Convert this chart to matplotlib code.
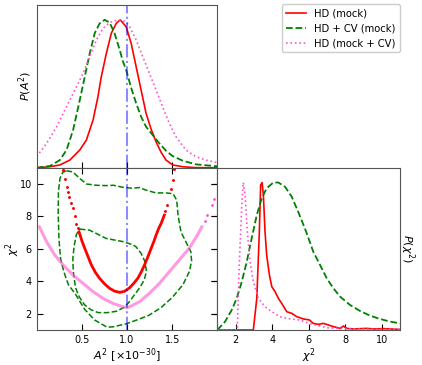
import matplotlib
matplotlib.use('Agg')
import matplotlib.pyplot as plt
from matplotlib.lines import Line2D

# --- marginal of A^2 (top-left), normalised to peak 1
a2_red = [0.0, 0.146, 0.257, 0.367, 0.477, 0.55, 0.624, 0.678, 0.715, 0.771, 0.826, 0.881, 0.925,
          0.99, 1.046, 1.101, 1.156, 1.211, 1.267, 1.322, 1.377, 1.432, 1.505, 1.615, 1.75, 2.0]
p_a2_red = [0.0, 0.007, 0.019, 0.052, 0.12, 0.187, 0.323, 0.48, 0.615, 0.773, 0.909, 0.976, 1.0,
            0.953, 0.841, 0.683, 0.525, 0.368, 0.26, 0.175, 0.105, 0.052, 0.019, 0.007, 0.001, 0.0]

a2_green = [0.0, 0.146, 0.257, 0.33, 0.403, 0.477, 0.532, 0.587, 0.642, 0.697, 0.752, 0.807, 0.862,
            0.917, 0.954, 0.991, 1.046, 1.101, 1.156, 1.211, 1.284, 1.358, 1.432, 1.505, 1.615, 1.762, 2.0]
p_a2_green = [0.0, 0.012, 0.052, 0.12, 0.255, 0.458, 0.615, 0.773, 0.909, 0.976, 1.0, 0.981, 0.909,
              0.80, 0.72, 0.66, 0.54, 0.436, 0.345, 0.277, 0.221, 0.165, 0.115, 0.079, 0.048, 0.023, 0.01]

a2_pink = [0.0, 0.11, 0.22, 0.33, 0.44, 0.514, 0.587, 0.661, 0.734, 0.807, 0.881, 0.93, 0.99, 1.028,
           1.101, 1.174, 1.248, 1.322, 1.394, 1.468, 1.542, 1.652, 1.762, 1.872, 2.0]
p_a2_pink = [0.075, 0.165, 0.277, 0.413, 0.548, 0.638, 0.751, 0.864, 0.942, 0.981, 0.996, 1.0, 0.985, 0.955,
             0.864, 0.751, 0.638, 0.525, 0.413, 0.30, 0.21, 0.12, 0.075, 0.052, 0.034]

# --- joint A^2 vs chi^2 (bottom-left)
outer_x = [0.33, 0.40, 0.477, 0.55, 0.66, 0.77, 0.85, 0.95, 1.05, 1.14, 1.21, 1.32, 1.43, 1.51, 1.55,
           1.565, 1.597, 1.652, 1.707, 1.715, 1.69, 1.62, 1.50, 1.37, 1.24, 1.10, 0.99, 0.85, 0.78,
           0.64, 0.53, 0.43, 0.35, 0.30, 0.264, 0.246, 0.238, 0.24, 0.257, 0.29, 0.33]
outer_y = [10.82, 10.74, 10.34, 10.0, 9.92, 9.9, 9.92, 9.8, 9.74, 9.78, 9.62, 9.45, 9.45, 9.4, 9.0,
           8.08, 7.05, 6.43, 5.82, 5.25, 4.6, 3.8, 3.0, 2.35, 1.9, 1.6, 1.38, 1.2, 1.17,
           1.62, 2.28, 3.2, 3.8, 4.6, 5.41, 6.64, 8.08, 9.51, 10.34, 10.72, 10.82]

inner_x = [0.477, 0.587, 0.771, 0.954, 1.064, 1.10, 1.156, 1.20, 1.215, 1.19, 1.14, 1.08, 1.02, 0.97,
           0.88, 0.78, 0.68, 0.60, 0.53, 0.47, 0.43, 0.405, 0.40, 0.415, 0.44, 0.477]
inner_y = [7.22, 7.15, 6.64, 6.45, 6.25, 6.13, 5.72, 5.2, 4.6, 4.08, 3.6, 3.15, 2.7, 2.4,
           2.15, 2.07, 2.07, 2.25, 2.55, 3.05, 3.6, 4.6, 5.4, 6.2, 6.9, 7.22]

red_band_x = [0.469, 0.50, 0.532, 0.57, 0.606, 0.65, 0.697, 0.75, 0.807, 0.86, 0.92, 0.97, 1.028,
              1.075, 1.119, 1.16, 1.193, 1.23, 1.267, 1.30, 1.322, 1.35, 1.377, 1.413]
red_band_y = [7.05, 6.5, 6.03, 5.5, 5.0, 4.55, 4.18, 3.85, 3.57, 3.4, 3.32, 3.38, 3.6,
              3.88, 4.18, 4.6, 5.0, 5.5, 6.03, 6.5, 6.85, 7.25, 7.56, 8.08]
red_dots_x = [0.29, 0.293, 0.31, 0.33, 0.345, 0.359, 0.38, 0.403, 0.42, 0.44, 0.455,
              1.425, 1.443, 1.487, 1.512, 1.52]
red_dots_y = [11.0, 10.85, 10.3, 9.82, 9.5, 9.2, 8.8, 8.49, 8.0, 7.56, 7.3,
              8.35, 8.69, 9.72, 10.23, 10.9]

pink_band_x = [0.029, 0.11, 0.2, 0.293, 0.403, 0.514, 0.624, 0.734, 0.844, 0.954, 1.0, 1.028,
               1.138, 1.248, 1.358, 1.468, 1.578, 1.688, 1.78, 1.828]
pink_band_y = [7.36, 6.43, 5.62, 5.0, 4.38, 3.87, 3.36, 2.95, 2.64, 2.43, 2.38, 2.43,
               2.74, 3.26, 3.87, 4.59, 5.31, 6.03, 6.85, 7.36]
pink_dots_x = [1.86, 1.89, 1.938, 1.96]
pink_dots_y = [7.7, 8.08, 8.69, 9.1]

# --- marginal of chi^2 (bottom-right), normalised to peak 1
chi_green = [1.0, 1.05, 1.42, 1.79, 2.06, 2.34, 2.61, 2.88, 3.16, 3.43, 3.70, 4.07, 4.34, 4.71,
             5.07, 5.43, 5.85, 6.25, 6.62, 6.99, 7.35, 7.72, 8.26, 8.81, 9.36, 9.9, 10.45, 11.0]
p_chi_green = [0.0, 0.007, 0.056, 0.136, 0.215, 0.328, 0.463, 0.622, 0.78, 0.893, 0.961, 1.0, 1.0, 0.97,
               0.904, 0.80, 0.67, 0.531, 0.441, 0.35, 0.283, 0.226, 0.17, 0.129, 0.097, 0.075, 0.057, 0.045]

chi_red = [1.0, 2.97, 3.16, 3.30, 3.37, 3.45, 3.52, 3.61, 3.70, 3.85, 3.98, 4.16, 4.34, 4.52, 4.80,
           5.07, 5.35, 5.71, 6.04, 6.25, 6.53, 6.80, 7.08, 7.35, 7.72, 7.90, 8.08, 8.44, 9.17, 9.54,
           10.08, 11.0]
p_chi_red = [0.0, 0.0, 0.215, 0.667, 0.983, 1.0, 0.915, 0.667, 0.508, 0.373, 0.294, 0.26, 0.215, 0.181,
             0.124, 0.113, 0.09, 0.075, 0.068, 0.045, 0.038, 0.045, 0.034, 0.023, 0.011, 0.027, 0.011,
             0.007, 0.011, 0.007, 0.009, 0.004]

chi_pink = [1.0, 2.09, 2.2, 2.34, 2.42, 2.52, 2.64, 2.79, 2.97, 3.24, 3.61, 3.98, 4.43, 4.98, 5.53,
            6.0, 6.5, 7.0, 8.0, 9.0, 11.0]
p_chi_pink = [0.0, 0.0, 0.441, 0.847, 1.0, 0.915, 0.667, 0.463, 0.328, 0.215, 0.158, 0.124, 0.09,
              0.075, 0.068, 0.045, 0.03, 0.015, 0.008, 0.005, 0.003]

labels = ['HD (mock)', 'HD + CV (mock)', 'HD (mock + CV)']
a2_true = 1.0

RED = 'red'
GREEN = 'green'
PINK = '#ff55cc'

plt.rcParams['font.size'] = 7

fig = plt.figure(figsize=(4.22, 3.65), dpi=100)
ax_top = fig.add_axes([0.087, 0.5404, 0.428, 0.4459])
ax_joint = fig.add_axes([0.087, 0.0959, 0.428, 0.4445])
ax_chi = fig.add_axes([0.515, 0.0959, 0.433, 0.4445])

# top-left: P(A^2)
ax_top.plot(a2_red, p_a2_red, color=RED, lw=1.2)
ax_top.plot(a2_green, p_a2_green, color=GREEN, ls='--', lw=1.3)
ax_top.plot(a2_pink, p_a2_pink, color=PINK, ls=':', lw=1.2)
ax_top.axvline(a2_true, color='blue', alpha=0.45, ls='-.', lw=1.5)
ax_top.set_xlim(0, 2)
ax_top.set_ylim(0, 1.1)
ax_top.set_xticks([0.5, 1.0, 1.5])
ax_top.set_xticklabels([])
ax_top.set_yticks([])
ax_top.tick_params(direction='in', length=4)
ax_top.set_ylabel(r'$P(A^2)$', fontsize=8, labelpad=2)

# bottom-left: joint
ax_joint.plot(outer_x, outer_y, color=GREEN, ls='--', lw=1.1)
ax_joint.plot(inner_x, inner_y, color=GREEN, ls='--', lw=1.1)
ax_joint.plot(pink_band_x, pink_band_y, color=PINK, lw=2.2, alpha=0.6)
ax_joint.plot(pink_dots_x, pink_dots_y, ls='none', marker='.', ms=2, color=PINK)
ax_joint.plot(red_band_x, red_band_y, color=RED, lw=2.0)
ax_joint.plot(red_dots_x, red_dots_y, ls='none', marker='.', ms=2.2, color=RED)
ax_joint.axvline(a2_true, color='blue', alpha=0.45, ls='-.', lw=1.5)
ax_joint.set_xlim(0, 2)
ax_joint.set_ylim(1, 11)
ax_joint.set_xticks([0.5, 1.0, 1.5])
ax_joint.set_yticks([2, 4, 6, 8, 10])
ax_joint.tick_params(direction='in', length=4, top=True, right=True, labelsize=7)
ax_joint.set_xlabel(r'$A^2$ [$\times 10^{-30}$]', fontsize=8, labelpad=1)
ax_joint.set_ylabel(r'$\chi^2$', fontsize=8, labelpad=-1.5)

# bottom-right: P(chi^2)
ax_chi.plot(chi_red, p_chi_red, color=RED, lw=1.2)
ax_chi.plot(chi_green, p_chi_green, color=GREEN, ls='--', lw=1.3)
ax_chi.plot(chi_pink, p_chi_pink, color=PINK, ls=':', lw=1.2)
ax_chi.set_xlim(1, 11)
ax_chi.set_ylim(0, 1.1)
ax_chi.set_xticks([2, 4, 6, 8, 10])
ax_chi.set_yticks([0.11, 0.33, 0.55, 0.77, 0.99])
ax_chi.set_yticklabels([])
ax_chi.tick_params(axis='x', direction='in', length=4, labelsize=7)
ax_chi.tick_params(axis='y', direction='out', length=4)
ax_chi.set_xlabel(r'$\chi^2$', fontsize=8, labelpad=1)
ax_chi.yaxis.set_label_position('right')
ax_chi.set_ylabel(r'$P(\chi^2)$', fontsize=8, rotation=270, labelpad=12)

for ax in (ax_top, ax_joint, ax_chi):
    for sp in ax.spines.values():
        sp.set_color('#555555')

handles = [Line2D([], [], color=RED, lw=1.2),
           Line2D([], [], color=GREEN, ls='--', lw=1.3),
           Line2D([], [], color=PINK, ls=':', lw=1.2)]
fig.legend(handles, labels, loc='upper right', bbox_to_anchor=(0.947, 0.988),
           borderaxespad=0, fontsize=7.2, framealpha=1)

fig.savefig('out.png', dpi=100)
